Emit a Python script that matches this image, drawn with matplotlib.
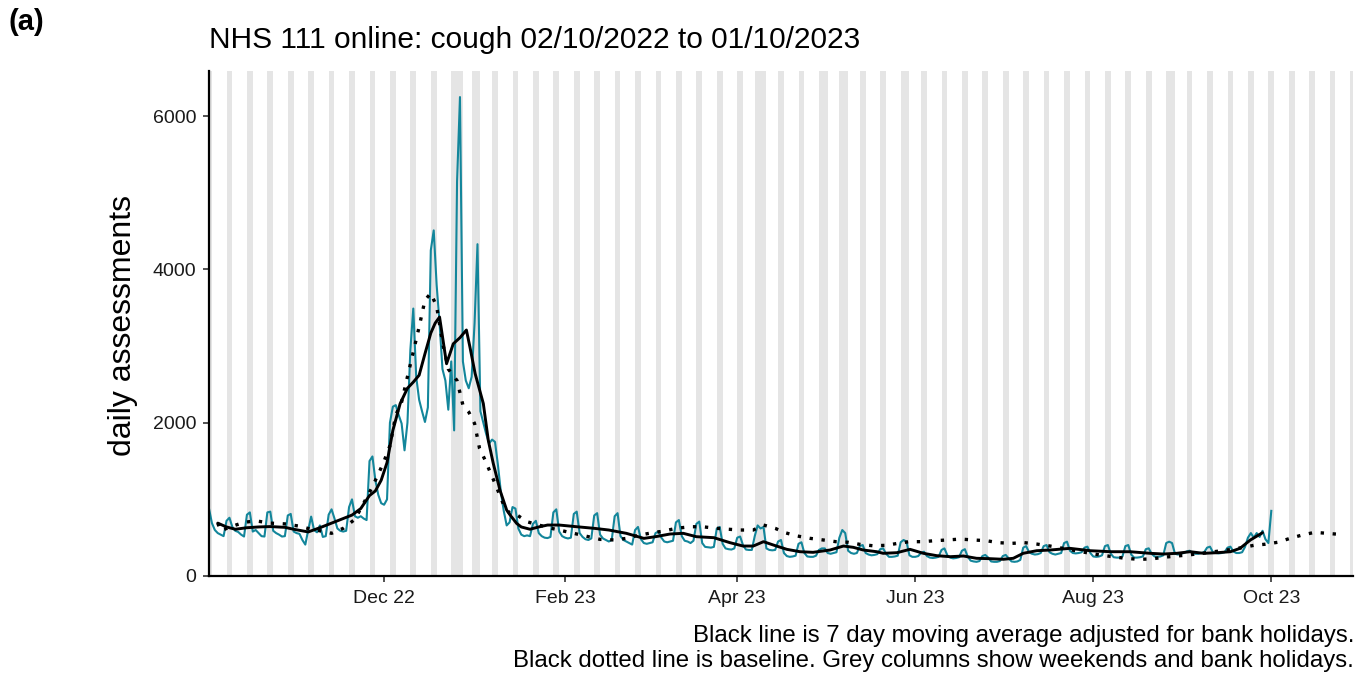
import numpy as np
import pandas as pd
import matplotlib
matplotlib.use('Agg')
import matplotlib.pyplot as plt
import matplotlib.dates as mdates

# ---------------- data ----------------
start_date = '2022-10-02'
first_day_value = 880  # Sun 02/10/2022

# daily assessments, one row per week (Mon..Sun), from Mon 03/10/2022 to Sun 01/10/2023
daily_weeks = [
    [690, 600, 560, 540, 520, 720, 760],
    [640, 590, 575, 540, 515, 800, 830],
    [580, 600, 560, 520, 515, 830, 840],
    [590, 560, 540, 515, 520, 790, 810],
    [580, 560, 550, 470, 410, 600, 775],
    [600, 570, 660, 510, 520, 800, 870],
    [750, 620, 590, 580, 590, 900, 1000],
    [780, 760, 780, 750, 730, 1500, 1560],
    [1250, 1060, 950, 930, 1000, 2000, 2210],
    [2230, 2100, 1990, 1640, 2000, 2950, 3490],
    [2600, 2300, 2150, 2010, 2200, 4250, 4510],
    [3800, 3300, 2700, 2550, 2170, 2800, 1900],
    [5150, 6250, 2800, 2550, 2450, 2600, 3300],
    [4330, 2150, 2000, 1850, 1730, 1780, 1750],
    [1450, 1100, 850, 660, 700, 900, 880],
    [620, 540, 520, 530, 520, 680, 720],
    [560, 520, 500, 495, 510, 830, 870],
    [580, 520, 500, 490, 500, 810, 840],
    [560, 510, 480, 470, 490, 790, 820],
    [540, 490, 470, 450, 470, 780, 820],
    [520, 470, 450, 430, 410, 600, 640],
    [480, 430, 420, 430, 440, 560, 580],
    [500, 450, 440, 450, 460, 700, 730],
    [520, 460, 450, 430, 460, 680, 710],
    [430, 380, 375, 370, 380, 620, 640],
    [420, 360, 350, 345, 360, 500, 515],
    [400, 345, 340, 340, 520, 660, 620],
    [640, 360, 340, 335, 340, 450, 470],
    [300, 260, 250, 255, 265, 420, 440],
    [300, 255, 250, 250, 265, 340, 360],
    [360, 300, 290, 300, 310, 500, 600],
    [560, 330, 300, 290, 300, 390, 404],
    [300, 280, 270, 275, 285, 350, 360],
    [290, 250, 250, 255, 265, 440, 470],
    [450, 270, 250, 250, 260, 300, 317],
    [260, 240, 235, 240, 250, 340, 360],
    [270, 240, 230, 235, 245, 330, 350],
    [250, 200, 190, 185, 195, 260, 275],
    [240, 190, 185, 185, 195, 260, 275],
    [230, 190, 185, 190, 210, 370, 390],
    [310, 290, 280, 285, 300, 390, 404],
    [310, 290, 280, 290, 300, 430, 448],
    [330, 300, 295, 300, 310, 370, 383],
    [300, 255, 250, 255, 270, 390, 404],
    [290, 245, 240, 240, 255, 390, 404],
    [280, 240, 240, 245, 255, 350, 361],
    [290, 255, 250, 255, 270, 430, 448],
    [430, 290, 280, 290, 300, 320, 330],
    [300, 290, 290, 300, 310, 370, 383],
    [310, 300, 295, 300, 310, 370, 383],
    [320, 300, 300, 310, 380, 500, 560],
    [500, 560, 510, 590, 480, 430, 850],
]

# 7 day moving average (days since start, value)
ma_days = [3, 6, 9, 13, 17, 21, 26, 29, 34, 38, 43, 46, 49, 52, 55, 57, 59, 61,
           63, 65.5, 68, 70, 72, 74, 76, 77.5, 79, 81.4, 83.7, 86, 88.2, 89.4,
           91.2, 94, 95.7, 97.4, 99.7, 102, 103.2, 105.4, 107, 110, 113, 116, 120,
           126, 132, 137, 143, 149, 153, 158, 162.5, 167, 173, 178.5, 183, 186.5,
           190, 193.4, 198, 202.5, 207, 212.8, 217.4, 220.8, 224.2, 228.8, 231,
           235.7, 240.2, 244.8, 249.4, 254, 258.5, 263, 267.6, 272.2, 275.6, 279,
           283.6, 288.2, 295, 302, 309, 315.6, 322.5, 327, 331.6, 336.2, 340.8,
           345.4, 350, 353.3, 356.8, 361]
ma_values = [690, 640, 610, 630, 640, 645, 635, 610, 575, 630, 705, 750, 795, 880,
             1050, 1110, 1250, 1480, 1900, 2250, 2450, 2530, 2620, 2900, 3170, 3300,
             3380, 2770, 3030, 3110, 3210, 2990, 2640, 2250, 1770, 1470, 1120, 860,
             795, 687, 640, 610, 640, 665, 665, 643, 622, 600, 557, 491, 513, 548,
             557, 513, 500, 435, 391, 391, 448, 404, 348, 317, 309, 339, 391, 374,
             339, 317, 296, 304, 348, 296, 265, 252, 261, 231, 226, 218, 231, 296,
             330, 339, 361, 330, 317, 317, 296, 287, 296, 317, 296, 304, 317, 361,
             469, 565]

# baseline (days since start, value)
baseline_days = [3, 4, 8, 12, 16, 21, 26, 31, 35, 38, 42, 46, 50, 53, 56, 59.7, 62,
                 64, 66, 68, 70, 72, 74, 76, 78, 80, 82, 85, 87, 89, 91, 92.7, 94.6,
                 96.3, 98, 101, 103, 105, 109, 113, 117, 121, 126, 130, 134, 139, 143,
                 147, 152, 156, 160, 165, 169, 174, 178, 182, 186.5, 190, 194, 197.4,
                 201.6, 206, 210.5, 214.8, 219, 223, 227.4, 232, 236, 240, 244.5, 248.8,
                 253, 257.4, 262, 266.3, 270.5, 275, 279.4, 283.6, 288.2, 292.6, 297,
                 300.8, 305.3, 309.7, 313.9, 318.5, 322.8, 327, 331.6, 335.6, 340.2,
                 345, 350, 354.5, 358, 362, 366.2, 370.4, 374.6, 378.9, 383.3, 387.5]
baseline_values = [690, 590, 650, 700, 720, 690, 680, 650, 610, 590, 557, 622, 740,
                   950, 1165, 1470, 1700, 2100, 2270, 2600, 2925, 3250, 3600, 3690,
                   3520, 3050, 2700, 2550, 2230, 2140, 1990, 1665, 1513, 1360, 1209,
                   926, 818, 810, 708, 665, 625, 591, 548, 513, 478, 470, 491, 530, 565,
                   587, 622, 643, 643, 622, 610, 600, 600, 665, 622, 565, 522, 491, 470,
                   448, 440, 413, 395, 400, 426, 448, 448, 461, 470, 482, 470, 461, 435,
                   426, 435, 417, 391, 361, 330, 304, 274, 252, 231, 218, 222, 244, 261,
                   274, 296, 320, 345, 374, 400, 415, 440, 491, 535, 570, 556, 543]

bank_holidays = ['2022-12-26', '2022-12-27', '2023-01-02', '2023-04-07', '2023-04-10',
                 '2023-05-01', '2023-05-08', '2023-05-29', '2023-08-28']
x_tick_dates = ['2022-12-01', '2023-02-01', '2023-04-01', '2023-06-01', '2023-08-01', '2023-10-01']
y_ticks = [0, 2000, 4000, 6000]

title_text = 'NHS 111 online: cough 02/10/2022 to 01/10/2023'
panel_label = '(a)'
y_label = 'daily assessments'
caption_1 = 'Black line is 7 day moving average adjusted for bank holidays.'
caption_2 = 'Black dotted line is baseline. Grey columns show weekends and bank holidays.'

# ---------------- plot ----------------
plt.rcParams['font.family'] = ['Liberation Sans', 'DejaVu Sans']
W, H = 1363, 674
fig = plt.figure(figsize=(W / 100, H / 100), dpi=100)
ax = fig.add_axes([209 / W, 1 - 576 / H, (1353 - 209) / W, (576 - 71) / H])

teal = '#13869b'
grey_col = '#e5e5e5'

start = pd.Timestamp(start_date)
x0 = mdates.date2num(start)
daily = [first_day_value] + [v for week in daily_weeks for v in week]
days = np.arange(len(daily))
n_axis_days = 392

bh = set(bank_holidays)
for d in range(n_axis_days):
    dt = start + pd.Timedelta(days=d)
    if dt.weekday() >= 5 or dt.strftime('%Y-%m-%d') in bh:
        ax.axvspan(x0 + d, x0 + d + 1, color=grey_col, lw=0, zorder=0)

ax.plot(x0 + days, daily, color=teal, lw=1.5, zorder=2, solid_joinstyle='round')
ax.plot(x0 + np.array(baseline_days), baseline_values, color='black', lw=2.4,
        linestyle=(0, (1, 2.6)), dash_capstyle='butt', zorder=3)
ax.plot(x0 + np.array(ma_days), ma_values, color='black', lw=2.1, zorder=4,
        solid_joinstyle='round', solid_capstyle='round')

ax.set_xlim(x0, x0 + n_axis_days)
ax.set_ylim(0, 6590)

ax.set_xticks([mdates.date2num(pd.Timestamp(t)) for t in x_tick_dates])
ax.xaxis.set_major_formatter(mdates.DateFormatter('%b %y'))
ax.set_yticks(y_ticks)
ax.set_yticklabels([str(v) for v in y_ticks])
ax.tick_params(axis='both', labelsize=14, length=4, width=1.2, color='#333333',
               labelcolor='#1a1a1a')
ax.tick_params(axis='x', pad=6)
ax.tick_params(axis='y', pad=5)

for s in ['top', 'right']:
    ax.spines[s].set_visible(False)
for s in ['left', 'bottom']:
    ax.spines[s].set_linewidth(1.6)
    ax.spines[s].set_color('black')

fig.text(209 / W, 1 - 40 / H, title_text, fontsize=21.5, ha='left', va='center')
fig.text(8 / W, 1 - 22 / H, panel_label, fontsize=21, fontweight='bold', ha='left', va='center')
fig.text(123 / W, 1 - 326 / H, y_label, fontsize=23, rotation=90, ha='center', va='center')
fig.text(1354 / W, 1 - 636 / H, caption_1, fontsize=17.3, ha='right', va='center')
fig.text(1354 / W, 1 - 661 / H, caption_2, fontsize=17.3, ha='right', va='center')

fig.savefig('out.png', dpi=100)
